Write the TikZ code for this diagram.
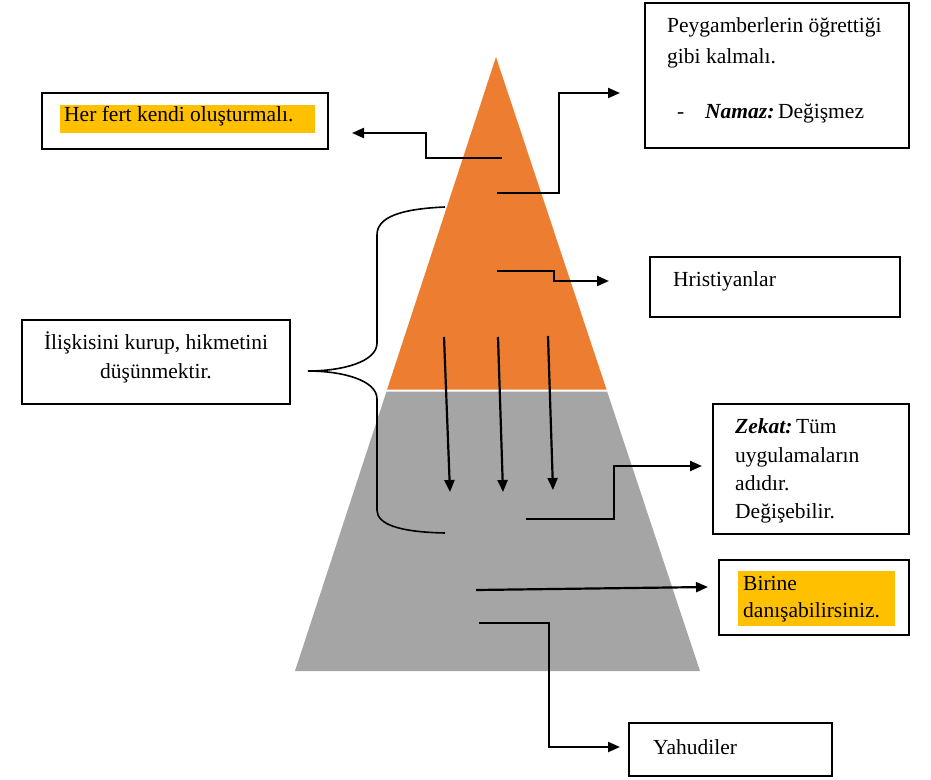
\documentclass[tikz,border=0pt]{standalone}
\usepackage{fontspec}
\setmainfont{Liberation Serif}
\usetikzlibrary{arrows.meta}
\definecolor{porange}{HTML}{ED7D31}
\definecolor{pgray}{HTML}{A5A5A5}
\definecolor{hlyellow}{HTML}{FFC000}
\begin{document}
\begin{tikzpicture}[x=1pt,y=-1pt,
  box/.style={draw=black, line width=1.6pt, fill=white, inner sep=0pt},
  txt/.style={anchor=base west, inner sep=0pt, font=\fontsize{21.5}{29}\selectfont},
  conn/.style={line width=2.2pt, -{Triangle[length=12pt,width=10pt]}},
  brace/.style={line width=1.6pt}]
\useasboundingbox[fill=white] (0,0) rectangle (931,779);
% pyramid
\fill[porange] (496,57) -- (606.5,389.5) -- (387.1,389.5) -- cycle;
\fill[pgray] (386.5,391.5) -- (607.1,391.5) -- (700,671) -- (295,671) -- cycle;
% boxes
\node[box, minimum width=286pt, minimum height=56pt] (herbox) at (185,121) {};
\node[box, minimum width=264pt, minimum height=145pt] (peybox) at (777,75.5) {};
\node[box, minimum width=250pt, minimum height=60pt] (hrisbox) at (775,287) {};
\node[box, minimum width=268pt, minimum height=84pt] (ilisbox) at (156,362) {};
\node[box, minimum width=196pt, minimum height=130pt] (zekbox) at (811,469) {};
\node[box, minimum width=190pt, minimum height=75pt] (birbox) at (814,597.5) {};
\node[box, minimum width=203pt, minimum height=53pt] (yahbox) at (730.5,749.5) {};
% highlights
\fill[hlyellow] (60,105) rectangle (315,133);
\fill[hlyellow] (738,571) rectangle (895,626);
% texts
\node[txt] (t1) at (64,121.5) {Her fert kendi oluşturmalı.};
\node[txt] (t2) at (667,32) {Peygamberlerin öğrettiği};
\node[txt] (t3) at (667,63) {gibi kalmalı.};
\node[txt] (t4) at (677,118) {-};
\node[txt] (t5) at (705,118) {\textbf{\textit{Namaz:}}\,Değişmez};
\node[txt] (t6) at (673,286) {Hristiyanlar};
\node[txt, anchor=base] (t7) at (156,349) {İlişkisini kurup, hikmetini};
\node[txt, anchor=base] (t8) at (156,378) {düşünmektir.};
\node[txt] (t9) at (735,433) {\textbf{\textit{Zekat:}}\,Tüm};
\node[txt] (t10) at (735,462) {uygulamaların};
\node[txt] (t11) at (735,490) {adıdır.};
\node[txt] (t12) at (735,518) {Değişebilir.};
\node[txt] (t13) at (743,590) {Birine};
\node[txt] (t14) at (743,617.5) {danışabilirsiniz.};
\node[txt] (t15) at (653,754) {Yahudiler};
% connector ends
\coordinate (a1s) at (502,158); \coordinate (a1e) at (352,133);
\coordinate (a2s) at (497,193); \coordinate (a2e) at (620,93);
\coordinate (a3s) at (497,271); \coordinate (a3e) at (609,281);
\coordinate (a4s) at (526,519); \coordinate (a4e) at (702,466);
\coordinate (a5s) at (476,590); \coordinate (a5e) at (708,587);
\coordinate (a6s) at (479,623); \coordinate (a6e) at (620,747);
\coordinate (v1s) at (444,337); \coordinate (v1e) at (450,492);
\coordinate (v2s) at (498,337); \coordinate (v2e) at (503,492);
\coordinate (v3s) at (548,336); \coordinate (v3e) at (553,490);
\draw[conn] (a1s) -- ++(-76,0) |- (a1e);
\draw[conn] (a2s) -- ++(62,0) |- (a2e);
\draw[conn] (a3s) -- ++(57,0) |- (a3e);
\draw[conn] (a4s) -- ++(88,0) |- (a4e);
\draw[conn] (a5s) -- (a5e);
\draw[conn] (a6s) -- ++(70,0) |- (a6e);
\draw[conn] (v1s) -- (v1e);
\draw[conn] (v2s) -- (v2e);
\draw[conn] (v3s) -- (v3e);
% brace
\coordinate (brtop) at (445,207); \coordinate (brtip) at (308,371); \coordinate (brbot) at (445,533);
\draw[brace] (brtop) .. controls (398,209) and (377,218) .. (377,235) -- (377,343)
  .. controls (377,362) and (342,371) .. (brtip)
  .. controls (342,371) and (377,380) .. (377,399) -- (377,510)
  .. controls (377,524) and (398,532) .. (brbot);
\end{tikzpicture}
\end{document}
